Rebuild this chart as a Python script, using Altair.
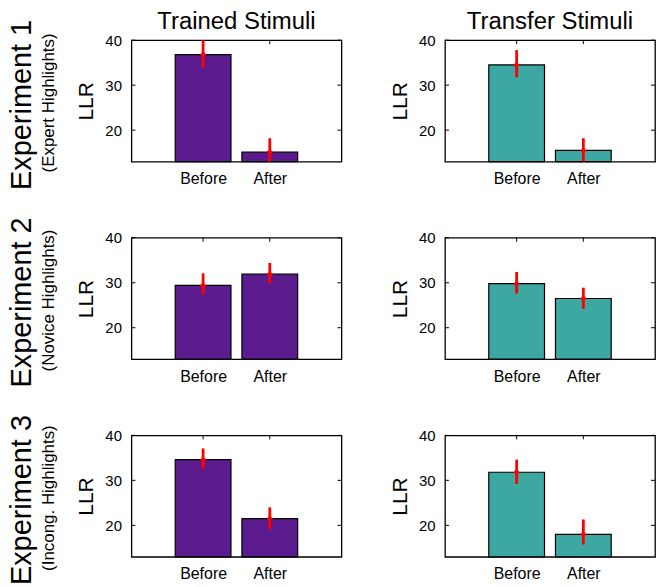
import altair as alt
import pandas as pd

# ---------------- data ----------------
experiments = ["Experiment 1", "Experiment 2", "Experiment 3"]
highlights = ["(Expert Highlights)", "(Novice Highlights)", "(Incong. Highlights)"]
stimuli = ["Trained Stimuli", "Transfer Stimuli"]
phases = ["Before", "After"]
phase_pos = [1, 2]

trained_mean = [[36.8, 15.1], [29.4, 31.9], [34.6, 21.5]]
trained_lo = [[33.9, 13.0], [27.4, 29.8], [32.5, 19.1]]
trained_hi = [[40.0, 18.2], [32.1, 34.4], [37.1, 24.0]]

transfer_mean = [[34.5, 15.5], [29.8, 26.5], [31.8, 18.0]]
transfer_lo = [[31.8, 13.0], [27.6, 24.2], [29.2, 15.7]]
transfer_hi = [[37.8, 18.2], [32.4, 28.9], [34.6, 21.3]]

y_ticks = [20, 30, 40]
y_domain = [13, 40]
x_domain = [0, 3]

# ---------------- style ----------------
FONT = "Liberation Sans"
W, H = 211, 122
LW = 19.5
bar_colors = ["#5B1A8E", "#3DA7A2"]

label_expr = "[" + ",".join("'%s'" % p for p in phases) + "][datum.value - 1]"


def panel(i, j):
    means = [trained_mean, transfer_mean][j][i]
    lo = [trained_lo, transfer_lo][j][i]
    hi = [trained_hi, transfer_hi][j][i]
    df = pd.DataFrame({"phase": phases, "pos": phase_pos, "mean": means, "lo": lo, "hi": hi})
    ticks_y = pd.DataFrame({"v": y_ticks})
    ticks_x = pd.DataFrame({"v": phase_pos})

    xs = alt.Scale(domain=x_domain, nice=False, zero=False)
    ys = alt.Scale(domain=y_domain, nice=False, zero=False)
    xaxis = alt.Axis(values=phase_pos, labelExpr=label_expr, title=None, grid=False,
                     ticks=False, tickSize=0, domain=False, labelFontSize=16, labelPadding=9,
                     labelFont=FONT, labelColor="#000")
    yaxis = alt.Axis(values=y_ticks, title="LLR", titleFontSize=21, titleFontWeight="normal",
                     titleFont=FONT, titleColor="#000", titlePadding=8, grid=False, ticks=False,
                     tickSize=0, domain=False, labelFontSize=15, labelPadding=10, labelFont=FONT,
                     labelColor="#000", format="d")

    base = alt.Chart(df)
    bars = base.mark_bar(size=56, color=bar_colors[j], stroke="#000", strokeWidth=1.2).encode(
        x=alt.X("pos:Q", scale=xs, axis=xaxis),
        y=alt.Y("mean:Q", scale=ys, axis=yaxis),
        y2=alt.datum(y_domain[0]),
    )
    err = base.mark_rule(color="#FF0000", strokeWidth=2.8).encode(
        x="pos:Q", y="lo:Q", y2="hi:Q"
    )
    dot = base.mark_point(shape="diamond", filled=True, color="#FF0000", size=40, opacity=1).encode(
        x="pos:Q", y="mean:Q"
    )
    tl = alt.Chart(ticks_y).mark_rule(color="#000", strokeWidth=1).encode(
        y="v:Q", x=alt.value(0), x2=alt.value(4))
    tr = alt.Chart(ticks_y).mark_rule(color="#000", strokeWidth=1).encode(
        y="v:Q", x=alt.value(W - 4), x2=alt.value(W))
    tt = alt.Chart(ticks_x).mark_rule(color="#000", strokeWidth=1).encode(
        x="v:Q", y=alt.value(0), y2=alt.value(4))

    props = dict(width=W, height=H, view=alt.ViewBackground(stroke="#000", strokeWidth=1.3))
    if i == 0:
        props["title"] = alt.Title(stimuli[j], fontSize=24, font=FONT, fontWeight="normal",
                                   anchor="middle", baseline="alphabetic", offset=-20, color="#000")
    return alt.layer(bars, tl, tr, tt, err, dot).properties(**props)


def label_cell(i):
    df = pd.DataFrame({"exp": [experiments[i]], "sub": [highlights[i]]})
    base = alt.Chart(df)
    t1 = base.mark_text(angle=270, fontSize=29, font=FONT, baseline="alphabetic",
                        align="center", color="#000").encode(
        text="exp:N", x=alt.value(23.5), y=alt.value(H / 2 + 4))
    t2 = base.mark_text(angle=270, fontSize=17, font=FONT, baseline="alphabetic",
                        align="center", color="#000").encode(
        text="sub:N", x=alt.value(46.5), y=alt.value(H / 2 + 2))
    return alt.layer(t1, t2).properties(width=LW, height=H,
                                        view=alt.ViewBackground(stroke=None))


cells = []
for i in range(3):
    cells.append(label_cell(i))
    cells.append(panel(i, 0))
    cells.append(panel(i, 1))

chart = alt.concat(
    *cells, columns=3, spacing={"row": 76.5, "column": 104}, bounds="flush", align="each"
).properties(
    padding={"left": 0, "top": 0, "right": 0, "bottom": 0}
).configure(font=FONT).configure_view(stroke="#000", strokeWidth=1.3)

chart.save("out.html", embed_options={"renderer": "svg", "actions": False})
